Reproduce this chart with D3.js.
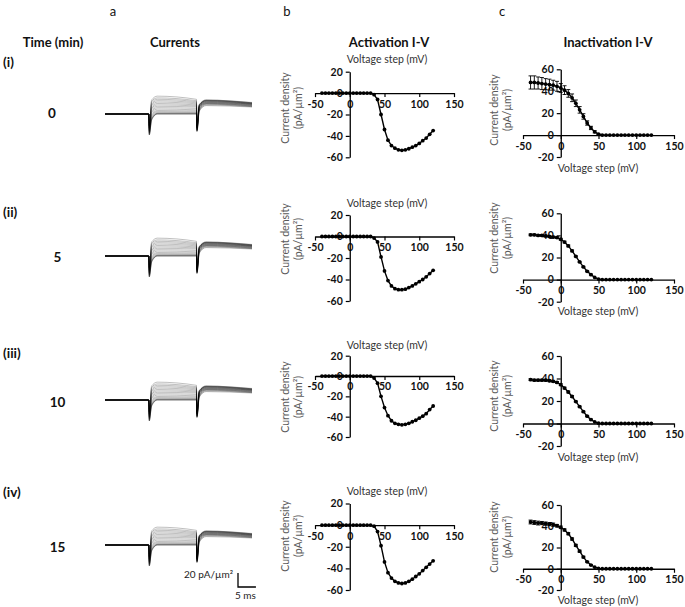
<!DOCTYPE html>
<html><head><meta charset="utf-8">
<script src="https://cdn.jsdelivr.net/npm/d3@7"></script>
<style>
body{margin:0;background:#fff}
svg{display:block;font-family:Lato,"Open Sans",sans-serif}
</style></head><body>
<svg id="chart" width="685" height="607"></svg>
<script>
// ---------------- DATA ----------------
const panelLetters = ["a", "b", "c"];
const headers = ["Time (min)", "Currents", "Activation I-V", "Inactivation I-V"];
const rowLabels = ["(i)", "(ii)", "(iii)", "(iv)"];
const timeLabels = ["0", "5", "10", "15"];

const voltages = [-40,-35,-30,-25,-20,-15,-10,-5,0,5,10,15,20,25,30,35,40,45,50,55,60,65,70,75,80,85,90,95,100,105,110,115,120];

const act0  = [0,0,0,0,0,0,0,0,0,0,0,0,0,0,0,-1.5,-6,-20,-34,-44,-49,-51.5,-53,-53.5,-53,-52,-50.5,-49,-47,-44.5,-42,-38.5,-35];
const act5  = [0,0,0,0,0,0,0,0,0,0,0,0,0,0,0,-1.5,-5,-19,-32,-41,-46,-48.5,-49.5,-49.5,-49,-47.5,-46,-44,-42,-40,-37.5,-34.5,-31.5];
const act10 = [0,0,0,0,0,0,0,0,0,0,0,0,0,0,0,-2,-7,-20,-31,-39,-44,-46.5,-47.5,-48,-47.5,-46.5,-45,-43.5,-41.5,-39.5,-37,-33,-29.5];
const act15 = [0,0,0,0,0,0,0,0,0,0,0,0,0,0,0,-1,-6,-19,-34,-44,-49,-52,-53.5,-54,-53.5,-52,-50,-47.5,-45,-42,-39,-36,-33];

const inact0  = [48,48,47.5,47,46.5,46,45.5,44.5,43,41,38,34,29,23,17,11,6.5,3,0.8,0,0,0,0,0,0,0,0,0,0,0,0,0,0];
const inact5  = [40.5,40.5,40,40,39.5,39,38.5,38,36.5,34,30.5,26,21,16,11.5,7.5,4.5,2,0.5,0,0,0,0,0,0,0,0,0,0,0,0,0,0];
const inact10 = [39,38.5,38.5,38.5,38.5,38,37.5,36.5,34.5,31.5,28,24,19.5,15,10.5,6.5,3.5,1.5,0.3,0,0,0,0,0,0,0,0,0,0,0,0,0,0];
const inact15 = [44,43.5,43,43,42.5,42,41.5,40.5,39,36.5,33,28,22,16.5,11,6.5,3.5,1.5,0.3,0,0,0,0,0,0,0,0,0,0,0,0,0,0];

const inact0Err  = [6,6,5.5,5.5,5,5,4.5,4.5,4,4,3.5,3.5,3,3,2.5,2,1.5,1,0.5,0,0,0,0,0,0,0,0,0,0,0,0,0,0];
const inact5Err  = [0.8,0.8,0.8,0.8,0.8,0.8,0.8,0.8,0.8,0.8,0.8,0.8,0.5,0.5,0.5,0.5,0.5,0,0,0,0,0,0,0,0,0,0,0,0,0,0,0,0];
const inact10Err = [0.8,0.8,0.8,0.8,0.8,0.8,0.8,0.8,0.8,0.8,0.8,0.8,0.5,0.5,0.5,0.5,0.5,0,0,0,0,0,0,0,0,0,0,0,0,0,0,0,0];
const inact15Err = [1.8,1.8,1.8,1.5,1.5,1.5,1.5,1.2,1.2,1,1,1,1,1,0.8,0.5,0.5,0,0,0,0,0,0,0,0,0,0,0,0,0,0,0,0];

const xTicks = [-50, 0, 50, 100, 150];
const actYTicks = [20, 0, -20, -40, -60];
const inactYTicks = [60, 40, 20, 0, -20];

// current traces: key times (ms) and per-sweep levels (pA/um^2)
const traceTimes     = [0, 12.2, 12.35, 13.0, 14.6, 25.5, 25.65, 26.3, 28.2, 41];
const onsetDip       = [-30,-30,-29,-28,-27,-26,-25,-24,-23,-22,-21,-20,-19,-18,-17,-16,-15];
const onsetRecovery  = [-9,-8,-7,-6,-4,-2,0,2,4,6,8,10,12,14,16,18,20];
const plateauPeak    = [0,0,0.5,1,2,3.5,5,7,9,11,13,15,17,19,21,23,25.5];
const plateauEnd     = [0,0,0.5,1,2,3,4.5,6,8,10,11.5,13,14.5,16,17.5,19,21];
const offsetDip      = [-25,-25,-24,-24,-23,-23,-22,-22,-21,-21,-20,-20,-19,-19,-18,-18,-17];
const offsetRecovery = [4,5,6,7,8,9,10,10,11,11,12,12,12,13,13,13,14];
const tailPeak       = [12,13,14,14.5,15,15.5,16,16.5,17,17.5,18,18.5,19,19,19.5,20,20];
const tailEnd        = [10,10.5,11,11.5,12,12.5,13,13.5,14,14,14.5,15,15,15.5,16,16,16.5];
const scaleBarCurrent = 20;  // pA/um^2
const scaleBarTime = 5;      // ms

// ---------------- LAYOUT ----------------
const actSeries = [act0, act5, act10, act15];
const inactSeries = [inact0, inact5, inact10, inact15];
const inactErrs = [inact0Err, inact5Err, inact10Err, inact15Err];

const rows = [
  {label:[3,62], time:[52,113], base:114, act:[71.7,157.3], actTitle:59, actY:108, inact:[69.3,157], inactTitle:168, inactY:110},
  {label:[3,212], time:[57.5,257], base:256, act:[215,301], actTitle:203, actY:239, inact:[213.3,301.7], inactTitle:311, inactY:238},
  {label:[3,353], time:[57.5,402], base:400, act:[355.7,437], actTitle:345, actY:397, inact:[356,446], inactTitle:457, inactY:396},
  {label:[3,492], time:[57.5,547], base:545, act:[503.5,590], actTitle:491, actY:536, inact:[505,590], inactTitle:600, inactY:537}
];

const svg = d3.select("#chart");
svg.append("rect").attr("width",685).attr("height",607).attr("fill","#fff");

// Panel letters and headers
const letterX = [113, 287, 502];
panelLetters.forEach((t,i)=>{
  svg.append("text").attr("x",letterX[i]).attr("y",11).attr("text-anchor","middle")
    .attr("dominant-baseline","central").attr("font-size",13).attr("fill","#111").text(t);
});
const headX = [53, 175, 389, 608];
headers.forEach((t,i)=>{
  svg.append("text").attr("x",headX[i]).attr("y",42).attr("text-anchor","middle")
    .attr("dominant-baseline","central").attr("font-size",13).attr("font-weight","bold").attr("fill","#111").text(t);
});

function styleAxis(g){
  g.select(".domain").attr("stroke","#000").attr("stroke-width",1.3);
  g.selectAll(".tick line").attr("stroke","#000").attr("stroke-width",1.2);
  g.selectAll(".tick text").attr("font-size",10.5).attr("font-weight","bold").attr("fill","#111")
    .attr("font-family","Lato, 'Open Sans', sans-serif");
}

function drawIV(g, xr, yr, yDomain, yTicks, data, errs){
  const x = d3.scaleLinear().domain([-50,150]).range(xr);
  const y = d3.scaleLinear().domain(yDomain).range(yr);
  const gx = g.append("g").attr("transform",`translate(0,${y(0)})`)
    .call(d3.axisBottom(x).tickValues(xTicks).tickSizeInner(4).tickSizeOuter(0).tickPadding(3).tickFormat(d=>String(d)));
  styleAxis(gx);
  const gy = g.append("g").attr("transform",`translate(${x(0)},0)`)
    .call(d3.axisLeft(y).tickValues(yTicks).tickSizeInner(4).tickSizeOuter(0).tickPadding(3).tickFormat(d=>String(d)));
  styleAxis(gy);
  const pts = voltages.map((v,i)=>({v, c:data[i], e: errs ? errs[i] : 0}));
  if (errs) {
    const eg = g.append("g").attr("stroke","#000").attr("stroke-width",0.9);
    pts.filter(p=>p.e>0).forEach(p=>{
      eg.append("line").attr("x1",x(p.v)).attr("x2",x(p.v)).attr("y1",y(p.c+p.e)).attr("y2",y(p.c-p.e));
      eg.append("line").attr("x1",x(p.v)-2).attr("x2",x(p.v)+2).attr("y1",y(p.c+p.e)).attr("y2",y(p.c+p.e));
      eg.append("line").attr("x1",x(p.v)-2).attr("x2",x(p.v)+2).attr("y1",y(p.c-p.e)).attr("y2",y(p.c-p.e));
    });
  }
  g.append("path").datum(pts).attr("fill","none").attr("stroke","#000").attr("stroke-width",1.4)
    .attr("d", d3.line().x(p=>x(p.v)).y(p=>y(p.c)));
  g.selectAll("circle.pt").data(pts).join("circle").attr("class","pt")
    .attr("cx",p=>x(p.v)).attr("cy",p=>y(p.c)).attr("r",1.9).attr("fill","#000");
  return {x,y};
}

function yTitle(g, cx, cy){
  const t = g.append("text").attr("transform",`translate(${cx},${cy}) rotate(-90)`)
    .attr("text-anchor","middle").attr("font-size",10.5).attr("fill","#595959");
  t.append("tspan").attr("x",0).attr("dy",0).text("Current density");
  t.append("tspan").attr("x",0).attr("dy",13).text("(pA/µm²)");
}

const sweeps = plateauPeak.map((_,k)=>[0,0,onsetDip[k],onsetRecovery[k],plateauPeak[k],plateauEnd[k],offsetDip[k],offsetRecovery[k],tailPeak[k],tailEnd[k]]);

rows.forEach((r,ri)=>{
  // row labels
  svg.append("text").attr("x",r.label[0]).attr("y",r.label[1]).attr("dominant-baseline","central")
    .attr("font-size",13.5).attr("font-weight","bold").attr("fill","#111").text(rowLabels[ri]);
  svg.append("text").attr("x",r.time[0]).attr("y",r.time[1]).attr("text-anchor","middle").attr("dominant-baseline","central")
    .attr("font-size",13.5).attr("font-weight","bold").attr("fill","#111").text(timeLabels[ri]);

  // currents
  const tx = d3.scaleLinear().domain([0,41]).range([105,252]);
  const ty = d3.scaleLinear().domain([0,20]).range([r.base, r.base-14]);
  const tg = svg.append("g");
  const line = d3.line().x((d,i)=>tx(traceTimes[i])).y(d=>ty(d)).curve(d3.curveMonotoneX);
  tg.selectAll("path").data(sweeps).join("path").attr("fill","none").attr("stroke","#000")
    .attr("stroke-width",0.5).attr("stroke-opacity",0.5).attr("d",line);
  if (ri===3){
    const bx = 238, by = 587;
    const sb = svg.append("g").attr("stroke","#000").attr("stroke-width",1.3).attr("fill","none");
    const hLen = tx(scaleBarTime)-tx(0), vLen = ty(0)-ty(scaleBarCurrent);
    sb.append("path").attr("d",`M${bx},${by-vLen}V${by}H${bx+hLen}`);
    svg.append("text").attr("x",bx-5).attr("y",by-13).attr("text-anchor","end").attr("dominant-baseline","central")
      .attr("font-size",10).attr("fill","#222").text("20 pA/µm²");
    svg.append("text").attr("x",bx+hLen).attr("y",by+8).attr("text-anchor","end").attr("dominant-baseline","central")
      .attr("font-size",10).attr("fill","#222").text("5 ms");
  }

  // activation
  const ag = svg.append("g");
  drawIV(ag, [315,454], r.act, [20,-60], actYTicks, actSeries[ri], null);
  ag.append("text").attr("x",387).attr("y",r.actTitle).attr("text-anchor","middle").attr("dominant-baseline","central")
    .attr("font-size",10.5).attr("fill","#333").text("Voltage step (mV)");
  yTitle(ag, 289, r.actY);

  // inactivation
  const ig = svg.append("g");
  drawIV(ig, [523,674], r.inact, [60,-20], inactYTicks, inactSeries[ri], inactErrs[ri]);
  ig.append("text").attr("x",598).attr("y",r.inactTitle).attr("text-anchor","middle").attr("dominant-baseline","central")
    .attr("font-size",10.5).attr("fill","#333").text("Voltage step (mV)");
  yTitle(ig, 498, r.inactY);
});
</script>
</body></html>
